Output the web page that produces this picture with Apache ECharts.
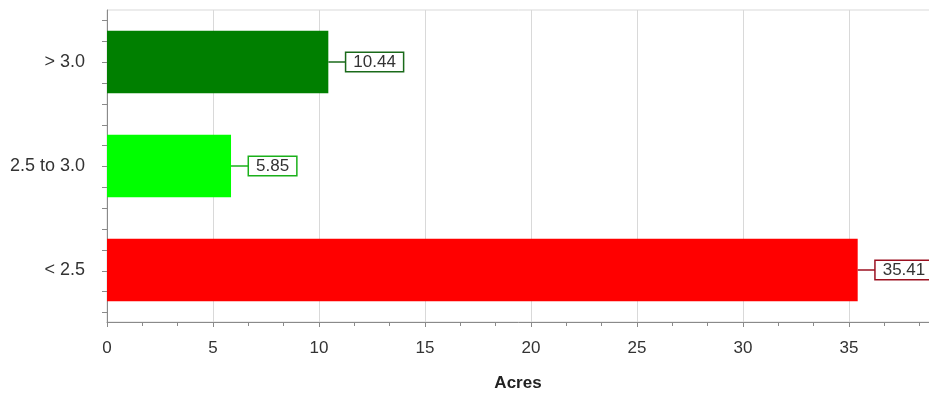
<!DOCTYPE html>
<html>
<head>
<meta charset="utf-8">
<script src="https://cdn.jsdelivr.net/npm/echarts@6/dist/echarts.min.js"></script>
<style>html,body{margin:0;padding:0;background:#fff;}#c{width:929px;height:393px;}</style>
</head>
<body>
<div id="c"></div>
<script>
// Data (bottom to top)
const categories = ['< 2.5', '2.5 to 3.0', '> 3.0'];
const acres = [35.41, 5.85, 10.44];
const barColors = ['#ff0000', '#00ff00', '#007f00'];
const labelBorderColors = ['#9b1020', '#1ab01a', '#1a6a1a'];
const axisName = 'Acres';

const FONT = 'Liberation Sans, Arial, sans-serif';
const chart = echarts.init(document.getElementById('c'), null, {renderer: 'canvas'});

chart.setOption({
  animation: false,
  backgroundColor: '#fff',
  grid: [
    {left: 107, top: 10, right: -26, bottom: 71, show: true, borderColor: '#d9d9d9', borderWidth: 1, containLabel: false, outerBoundsMode: 'none'},
    {left: 107, top: 20.4, right: -26, bottom: 80.4, show: false, containLabel: false, outerBoundsMode: 'none'}
  ],
  xAxis: [
    {
      gridIndex: 0, type: 'value', min: 0, max: 40, interval: 5,
      name: axisName, nameLocation: 'middle', nameGap: 53,
      nameTextStyle: {fontFamily: FONT, fontSize: 17, fontWeight: 'bold', color: '#222', padding: [0, 26, 0, 0]},
      axisLine: {show: true, lineStyle: {color: '#8a8a8a', width: 1}},
      axisTick: {show: true, length: 5, lineStyle: {color: '#8a8a8a'}},
      minorTick: {show: true, splitNumber: 3, length: 4, lineStyle: {color: '#8a8a8a'}},
      splitLine: {show: true, lineStyle: {color: '#d9d9d9', width: 1}},
      axisLabel: {fontFamily: FONT, fontSize: 17, color: '#333', margin: 18}
    },
    {gridIndex: 1, type: 'value', min: 0, max: 1, show: false}
  ],
  yAxis: [
    {
      gridIndex: 0, type: 'category', data: categories,
      axisLine: {show: true, lineStyle: {color: '#8a8a8a', width: 1}},
      axisTick: {show: false},
      splitLine: {show: false},
      axisLabel: {fontFamily: FONT, fontSize: 18, color: '#333', margin: 22}
    },
    {
      gridIndex: 1, type: 'value', min: 0, max: 14, interval: 1,
      axisLine: {show: false},
      axisTick: {show: true, length: 5, lineStyle: {color: '#8a8a8a'}},
      axisLabel: {show: false},
      splitLine: {show: false}
    }
  ],
  series: [
    {
      type: 'bar', xAxisIndex: 0, yAxisIndex: 0,
      data: acres.map((v, i) => ({value: v, itemStyle: {color: barColors[i]}})),
      barCategoryGap: '40%'
    },
    {
      type: 'custom', xAxisIndex: 0, yAxisIndex: 0, clip: false, z: 5,
      data: acres.map((v, i) => [v, i]),
      encode: {x: 0, y: 1},
      renderItem: function (params, api) {
        const i = params.dataIndex;
        const p = api.coord([api.value(0), api.value(1)]);
        const c = labelBorderColors[i];
        const gap = 18;
        return {
          type: 'group',
          children: [
            {type: 'line', shape: {x1: p[0], y1: p[1], x2: p[0] + gap, y2: p[1]}, style: {stroke: c, lineWidth: 1.5}},
            {type: 'text', x: p[0] + gap, y: p[1], style: {
              text: acres[i].toFixed(2), font: '17px ' + FONT, fill: '#333',
              align: 'left', verticalAlign: 'middle',
              backgroundColor: '#fff', borderColor: c, borderWidth: 1.5,
              padding: [1, 7, 0, 7], lineHeight: 17
            }}
          ]
        };
      }
    }
  ]
});
</script>
</body>
</html>
